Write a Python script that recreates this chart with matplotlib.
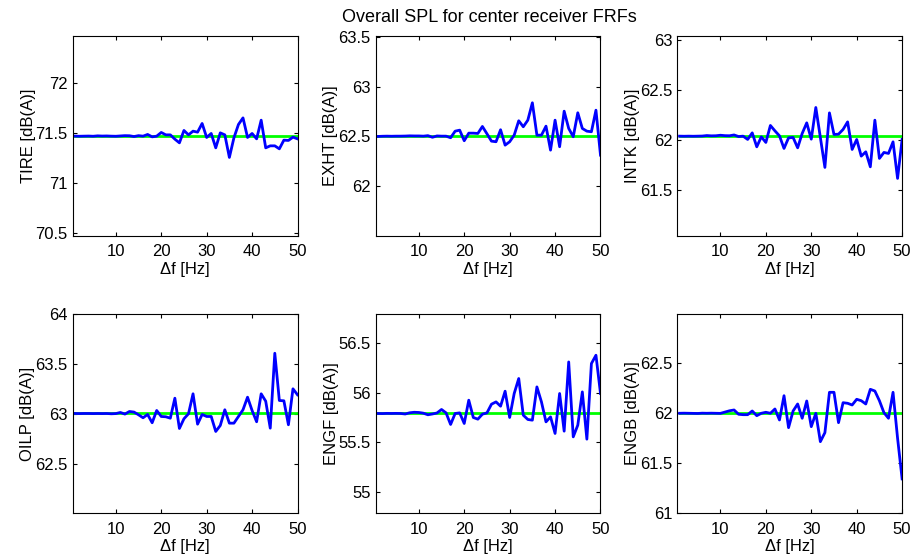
import matplotlib
matplotlib.use('Agg')
import matplotlib.pyplot as plt
import numpy as np
from matplotlib.ticker import FuncFormatter, MultipleLocator

plt.rcParams['font.family'] = ['Liberation Sans', 'DejaVu Sans']

df = np.arange(1, 51)

# overall SPL per frequency step, one list per source
tire = [71.467, 71.466, 71.467, 71.468, 71.466, 71.470, 71.468, 71.469, 71.467, 71.466,
        71.469, 71.472, 71.471, 71.463, 71.472, 71.467, 71.484, 71.460, 71.467, 71.504,
        71.480, 71.480, 71.437, 71.400, 71.524, 71.480, 71.517, 71.507, 71.594, 71.454,
        71.494, 71.350, 71.500, 71.480, 71.254, 71.450, 71.584, 71.650, 71.454, 71.494,
        71.440, 71.627, 71.350, 71.370, 71.370, 71.340, 71.427, 71.424, 71.457, 71.440]
exht = [62.500, 62.502, 62.503, 62.502, 62.503, 62.503, 62.504, 62.506, 62.505, 62.505,
        62.503, 62.508, 62.492, 62.505, 62.503, 62.503, 62.487, 62.553, 62.563, 62.457,
        62.533, 62.533, 62.530, 62.600, 62.527, 62.453, 62.447, 62.567, 62.413, 62.447,
        62.513, 62.657, 62.597, 62.663, 62.837, 62.513, 62.513, 62.603, 62.363, 62.663,
        62.397, 62.753, 62.580, 62.497, 62.737, 62.580, 62.553, 62.547, 62.763, 62.313]
intk = [62.040, 62.039, 62.040, 62.039, 62.040, 62.041, 62.046, 62.043, 62.044, 62.049,
        62.045, 62.044, 62.052, 62.036, 62.040, 62.007, 62.073, 61.933, 62.033, 61.977,
        62.147, 62.093, 62.043, 61.917, 62.023, 62.027, 61.923, 62.067, 62.173, 62.010,
        62.327, 62.027, 61.727, 62.273, 62.057, 62.060, 62.107, 62.183, 61.907, 62.007,
        61.840, 61.883, 61.733, 62.200, 61.817, 61.877, 61.867, 61.983, 61.617, 62.007]
oilp = [63.003, 63.002, 63.003, 63.003, 63.002, 63.003, 63.002, 63.003, 63.000, 63.002,
        63.013, 62.997, 63.023, 63.017, 62.990, 62.960, 62.993, 62.910, 63.033, 62.973,
        62.970, 62.956, 63.156, 62.853, 62.950, 63.000, 63.200, 62.896, 62.993, 62.973,
        62.973, 62.823, 62.883, 63.040, 62.906, 62.906, 62.973, 63.040, 63.166, 63.033,
        62.920, 63.200, 63.126, 62.856, 63.606, 63.133, 63.130, 62.890, 63.250, 63.190]
engf = [55.790, 55.789, 55.791, 55.790, 55.791, 55.790, 55.785, 55.797, 55.802, 55.800,
        55.793, 55.777, 55.785, 55.795, 55.830, 55.796, 55.680, 55.790, 55.796, 55.690,
        55.923, 55.750, 55.733, 55.783, 55.796, 55.883, 55.906, 55.863, 56.013, 55.750,
        55.990, 56.140, 55.773, 55.730, 55.723, 56.056, 55.906, 55.706, 55.756, 55.590,
        55.990, 55.613, 56.306, 55.556, 55.673, 56.006, 55.533, 56.290, 56.373, 55.990]
engb = [62.000, 62.001, 62.000, 61.999, 61.998, 62.001, 62.000, 62.001, 62.000, 61.999,
        62.012, 62.025, 62.033, 61.990, 61.986, 61.986, 62.023, 61.976, 62.000, 62.010,
        62.000, 62.043, 61.933, 62.176, 61.856, 62.023, 62.093, 61.950, 62.123, 61.866,
        62.000, 61.716, 61.806, 62.210, 62.210, 61.906, 62.106, 62.100, 62.083, 62.140,
        62.126, 62.093, 62.240, 62.223, 62.126, 62.006, 61.950, 62.210, 61.750, 61.343]

names = ['TIRE', 'EXHT', 'INTK', 'OILP', 'ENGF', 'ENGB']
series = [tire, exht, intk, oilp, engf, engb]
# reference level (green line) for each source
refs = [71.467, 62.503, 62.040, 63.003, 55.790, 61.998]

fig = plt.figure(figsize=(9.14, 5.58), dpi=100)
lefts = [0.0795, 0.411, 0.741]
bottoms = [0.577, 0.080]
w = 0.246
h = 0.358

for i in range(6):
    ax = fig.add_axes([lefts[i % 3], bottoms[i // 3], w, h])
    ax.plot([df[0], df[-1]], [refs[i], refs[i]], color=(0, 1, 0), linewidth=2)
    ax.plot(df, series[i], color=(0, 0, 1), linewidth=2)
    ax.set_xlim(0.5, 50)
    ax.set_ylim(refs[i] - 1, refs[i] + 1)
    ax.xaxis.set_major_locator(MultipleLocator(10))
    ax.yaxis.set_major_locator(MultipleLocator(0.5))
    ax.yaxis.set_major_formatter(FuncFormatter(lambda v, p: '%g' % v))
    ax.tick_params(direction='in', top=True, right=True, length=3, labelsize=12)
    ax.tick_params(axis='x', pad=6)
    ax.set_xlabel('\u0394f [Hz]', fontsize=12, labelpad=2)
    ax.set_ylabel(names[i] + ' [dB(A)]', fontsize=12, labelpad=0)

fig.text(0.535, 0.968, 'Overall SPL for center receiver FRFs', ha='center', va='center', fontsize=13)

fig.savefig('out.png', dpi=100)
